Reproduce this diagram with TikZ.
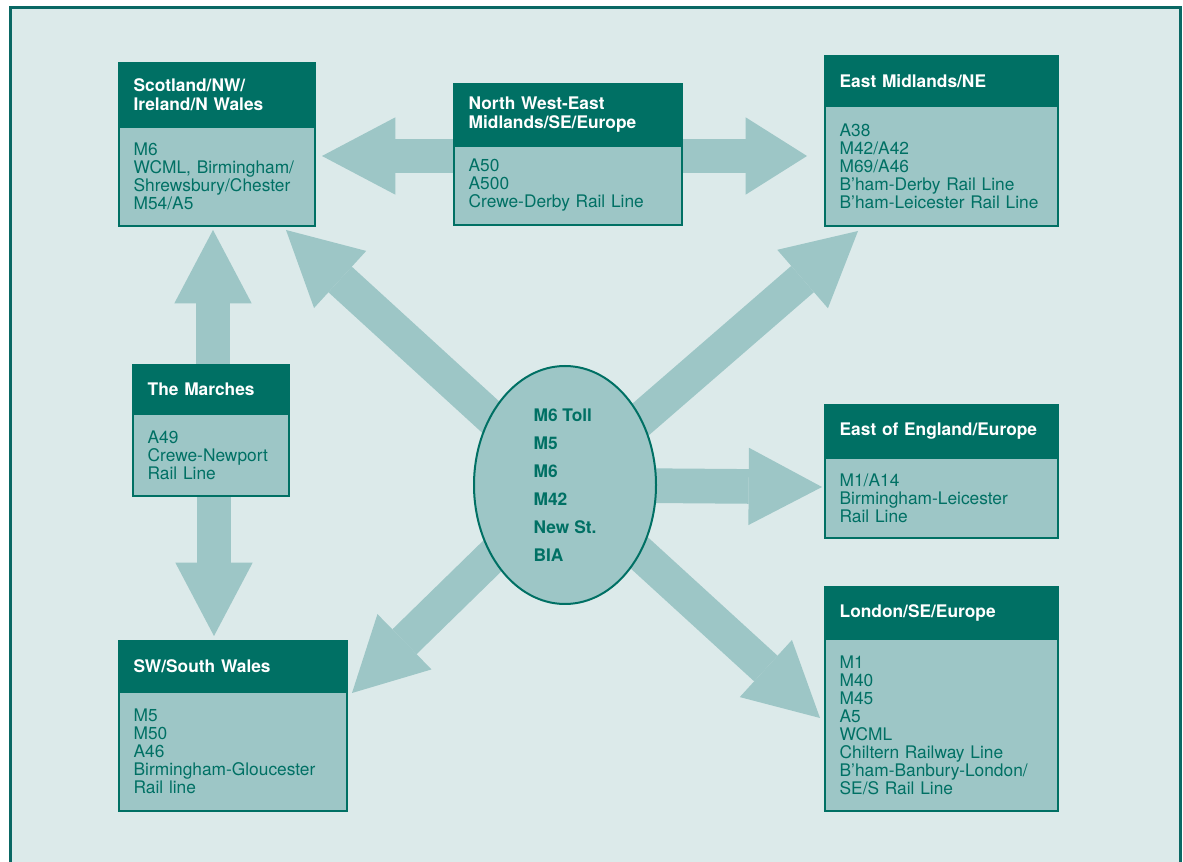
\documentclass[tikz,border=0pt]{standalone}
\usepackage{fontspec}
\setmainfont{TeX Gyre Heros}
\usetikzlibrary{shapes.geometric,arrows.meta,backgrounds}

\definecolor{deepteal}{RGB}{0,112,100}
\definecolor{framec}{RGB}{10,104,100}
\definecolor{mist}{RGB}{220,234,234}
\definecolor{sea}{RGB}{157,198,198}

\tikzset{every picture/.style={line width=0.75pt}}
\tikzset{
  headbox/.style={anchor=north west, fill=deepteal, draw=deepteal, line width=1.5pt, text=white, outer sep=0pt,
    font=\bfseries\fontsize{13}{14.25}\selectfont, align=left, inner xsep=11pt, inner ysep=0pt},
  bodybox/.style={anchor=north west, fill=sea, draw=deepteal, line width=1.5pt, text=deepteal, outer sep=0pt,
    font=\fontsize{13}{13.5}\selectfont, align=left, inner xsep=11pt, inner ysep=0pt},
  hubnode/.style={ellipse, fill=sea, draw=deepteal, line width=1.5pt, text=deepteal,
    minimum width=136.5pt, minimum height=178.5pt, inner sep=0pt, align=left,
    font=\bfseries\fontsize{13}{21}\selectfont},
  fat/.style={draw=sea, line width=26pt, -{Triangle[length=55pt,width=58pt,line width=0pt]}},
}

\begin{document}
\begin{tikzpicture}[x=0.75pt,y=0.75pt,yscale=-1,xscale=1]
\useasboundingbox (0,0) rectangle (1183,862);

%Frame
\begin{scope}[on background layer]
\draw [framec, fill=mist, line width=2.25pt] (10.5,8) rectangle (1180.5,900);
\end{scope}

%Centre
\node [hubnode] (hub) at (565,485) {M6 Toll\\M5\\M6\\M42\\New St.\\BIA};

%Scotland
\node [headbox, minimum width=147pt, text width=125pt, minimum height=48pt] (scotH) at (119,63) {Scotland/NW/\\Ireland/N Wales};
\node [bodybox, minimum width=147pt, text width=125pt, minimum height=74.25pt] (scot) at (scotH.south west) {M6\\WCML, Birmingham/\\Shrewsbury/Chester\\M54/A5};

%North West-East
\node [headbox, minimum width=171pt, text width=149pt, minimum height=46.5pt] (nweH) at (454,84) {North West-East\\Midlands/SE/Europe};
\node [bodybox, minimum width=171pt, text width=149pt, minimum height=59.25pt] (nwe) at (nweH.south west) {A50\\A500\\Crewe-Derby Rail Line};

%East Midlands
\node [headbox, minimum width=174.75pt, text width=152.75pt, minimum height=37.5pt] (emidH) at (825,56) {East Midlands/NE};
\node [bodybox, minimum width=174.75pt, text width=152.75pt, minimum height=90pt] (emid) at (emidH.south west) {A38\\M42/A42\\M69/A46\\B’ham-Derby Rail Line\\B’ham-Leicester Rail Line};

%The Marches
\node [headbox, minimum width=117pt, text width=95pt, minimum height=36.75pt] (marchH) at (133,365) {The Marches};
\node [bodybox, minimum width=117pt, text width=95pt, minimum height=61.5pt] (march) at (marchH.south west) {A49\\Crewe-Newport\\Rail Line};

%East of England
\node [headbox, minimum width=174.75pt, text width=152.75pt, minimum height=39.75pt] (eengH) at (825,405) {East of England/Europe};
\node [bodybox, minimum width=174.75pt, text width=152.75pt, minimum height=60pt] (eeng) at (eengH.south west) {M1/A14\\Birmingham-Leicester\\Rail Line};

%SW/South Wales
\node [headbox, minimum width=171pt, text width=149pt, minimum height=38.25pt] (swH) at (119,641) {SW/South Wales};
\node [bodybox, minimum width=171pt, text width=149pt, minimum height=89.25pt] (sw) at (swH.south west) {M5\\M50\\A46\\Birmingham-Gloucester\\Rail line};

%London
\node [headbox, minimum width=174.75pt, text width=152.75pt, minimum height=39pt] (lonH) at (825,587) {London/SE/Europe};
\node [bodybox, minimum width=174.75pt, text width=152.75pt, minimum height=129pt] (lon) at (lonH.south west) {M1\\M40\\M45\\A5\\WCML\\Chiltern Railway Line\\B’ham-Banbury-London/\\SE/S Rail Line};

%Arrow tips
\coordinate (tipL) at (322,156);
\coordinate (tipR) at (807,156);
\coordinate (tipU) at (213,230);
\coordinate (tipD) at (214,636);
\coordinate (tipNW) at (286,230);
\coordinate (tipNE) at (858,231);
\coordinate (tipE) at (822,487);
\coordinate (tipSW) at (352,693);
\coordinate (tipSE) at (820,718);

%Arrows
\begin{scope}[on background layer]
\draw [fat] (tipL -| nwe.center) -- (tipL);
\draw [fat, -{Triangle[length=46pt,width=58pt,line width=0pt]}] (tipR -| nwe.center) -- (tipR);
\draw [fat] (tipU |- marchH.north) -- (tipU);
\draw [fat] (tipD |- march.south) -- (tipD);
\draw [fat] (hub.center) -- (tipNW);
\draw [fat] (hub.center) -- (tipNE);
\draw [fat] (hub.center) -- (tipE);
\draw [fat] (hub.center) -- (tipSW);
\draw [fat] (hub.center) -- (tipSE);
\end{scope}

\end{tikzpicture}
\end{document}
